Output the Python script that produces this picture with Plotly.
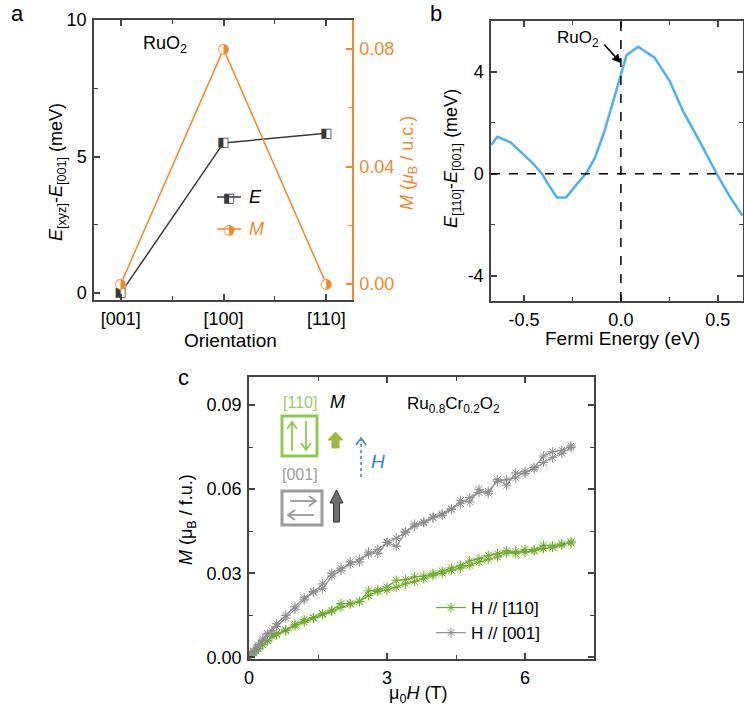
import plotly.graph_objects as go

W, H = 744, 713
def px(x): return x / W
def py(y): return 1 - y / H

FONT = "Liberation Sans, Arial, sans-serif"
GLYPH = "DejaVu Sans"
ORANGE = "#F28A2A"
DARK = "#3a3a3a"
BLUE = "#4DB3F0"
GREEN = "#6AAD24"
GRAY = "#8E8E8E"
AX = "#444444"

# ---------------- data ----------------
# panel a
orient_labels = ["[001]", "[100]", "[110]"]
orient_pos = [0, 1, 2]
E_vals = [0.0, 5.5, 5.85]
M_vals = [0.0, 0.08, 0.0]

# panel b
fermi_E = [-0.668, -0.637, -0.569, -0.51, -0.458, -0.407, -0.381, -0.330, -0.282, -0.227,
           -0.176, -0.133, -0.087, -0.039, 0.0, 0.029, 0.089, 0.174, 0.251, 0.320,
           0.405, 0.5, 0.559, 0.627]
dE_110_001 = [1.14, 1.45, 1.23, 0.80, 0.44, 0.0, -0.34, -0.93, -0.93, -0.41,
              0.05, 0.64, 1.62, 2.86, 3.84, 4.65, 4.99, 4.56, 3.65, 2.47,
              1.29, -0.08, -0.86, -1.65]

# panel c
H_up = [0, 0.05, 0.1, 0.15, 0.2, 0.3, 0.4, 0.5, 0.6, 0.8, 1.0, 1.2, 1.4, 1.6, 1.8, 2.0,
        2.2, 2.4, 2.6, 2.8, 3.0, 3.2, 3.4, 3.6, 3.8, 4.0, 4.2, 4.4, 4.6, 4.8, 5.0, 5.2,
        5.4, 5.6, 5.8, 6.0, 6.2, 6.4, 6.6, 6.8, 7.0]
H_down = [7.0, 6.8, 6.6, 6.4, 6.2, 6.0, 5.8, 5.6, 5.4, 5.2, 5.0, 4.8, 4.6, 4.4, 4.2, 4.0,
          3.8, 3.6, 3.4, 3.2, 3.0, 2.8, 2.6, 2.4, 2.2, 2.0, 1.8, 1.6, 1.4, 1.2, 1.0, 0.8,
          0.6, 0.4, 0.3, 0.2, 0.1, 0.0]
M001_up = [0, 0.001, 0.002, 0.003, 0.004, 0.006, 0.008, 0.0095, 0.011, 0.014, 0.0172,
           0.0205, 0.0235, 0.0245, 0.029, 0.031, 0.034, 0.034, 0.0375, 0.037, 0.041,
           0.0396, 0.0445, 0.0475, 0.0483, 0.050, 0.0507, 0.0527, 0.056, 0.0554, 0.0599,
           0.0585, 0.0634, 0.0614, 0.0658, 0.0656, 0.0677, 0.0718, 0.0733, 0.0739, 0.0754]
M001_down = [0.0748, 0.0728, 0.0712, 0.0695, 0.0672, 0.0663, 0.0640, 0.0633, 0.0628,
             0.0592, 0.0588, 0.0570, 0.0548, 0.0530, 0.0512, 0.0498, 0.0480, 0.0468,
             0.0448, 0.0425, 0.0410, 0.0385, 0.0368, 0.0350, 0.0332, 0.0318, 0.0300,
             0.0262, 0.0232, 0.0212, 0.0180, 0.0150, 0.0120, 0.0085, 0.0065, 0.0045,
             0.0022, 0.0005]
M110_up = [0, 0.0008, 0.0015, 0.0022, 0.003, 0.0045, 0.0058, 0.0075, 0.0085, 0.0095,
           0.0118, 0.0134, 0.0142, 0.0156, 0.0168, 0.0192, 0.0192, 0.0198, 0.0237, 0.024,
           0.0251, 0.0275, 0.0277, 0.0287, 0.029, 0.0299, 0.0308, 0.0319, 0.0328, 0.0344,
           0.0352, 0.0364, 0.037, 0.038, 0.037, 0.0385, 0.0383, 0.040, 0.0397, 0.0405,
           0.0408]
M110_down = [0.0412, 0.0400, 0.0392, 0.0388, 0.0380, 0.0375, 0.0378, 0.0372, 0.0358,
             0.0350, 0.0340, 0.0328, 0.0318, 0.0310, 0.0300, 0.0292, 0.0280, 0.0270,
             0.0262, 0.0250, 0.0240, 0.0235, 0.0220, 0.0200, 0.0190, 0.0178, 0.0165,
             0.0152, 0.0140, 0.0125, 0.0112, 0.0098, 0.0080, 0.0060, 0.0045, 0.0032,
             0.0018, 0.0004]

# tick labels
a_yticks = [0, 5, 10]
a_y2ticks = [0.0, 0.04, 0.08]
a_y2text = ["0.00", "0.04", "0.08"]
b_xticks = [-0.5, 0.0, 0.5]
b_xtext = ["-0.5", "0.0", "0.5"]
b_yticks = [-4, 0, 4]
b_ytext = ["-4", "0", "4"]
c_xticks = [0, 3, 6]
c_yticks = [0.0, 0.03, 0.06, 0.09]
c_ytext = ["0.00", "0.03", "0.06", "0.09"]

fig = go.Figure()

# ---------------- panel a ----------------
fig.add_trace(go.Scatter(x=orient_pos, y=E_vals, mode="lines+markers", xaxis="x", yaxis="y",
                         line=dict(color=DARK, width=1.5),
                         marker=dict(symbol="square", size=9, color="white", line=dict(width=0)),
                         showlegend=False, hoverinfo="skip"))
fig.add_trace(go.Scatter(x=orient_pos, y=E_vals, mode="text", xaxis="x", yaxis="y",
                         text=["\u25E7"] * len(E_vals), textposition="middle center",
                         textfont=dict(family=GLYPH, size=13, color=DARK),
                         showlegend=False, hoverinfo="skip"))
fig.add_trace(go.Scatter(x=orient_pos, y=M_vals, mode="lines+markers", xaxis="x", yaxis="y2",
                         line=dict(color=ORANGE, width=1.5),
                         marker=dict(symbol="circle", size=11, color="white", line=dict(width=0)),
                         showlegend=False, hoverinfo="skip"))
fig.add_trace(go.Scatter(x=orient_pos, y=M_vals, mode="text", xaxis="x", yaxis="y2",
                         text=["\u25D1"] * len(M_vals), textposition="middle center",
                         textfont=dict(family=GLYPH, size=14, color=ORANGE),
                         showlegend=False, hoverinfo="skip"))

# ---------------- panel b ----------------
fig.add_trace(go.Scatter(x=fermi_E, y=dE_110_001, mode="lines", xaxis="x2", yaxis="y3",
                         line=dict(color=BLUE, width=2.5), showlegend=False, hoverinfo="skip"))

# ---------------- panel c ----------------
def ast(color):
    return dict(symbol="asterisk-open", size=8, color=color, line=dict(color=color, width=1))

fig.add_trace(go.Scatter(x=H_up, y=M110_up, mode="lines+markers", xaxis="x3", yaxis="y4",
                         name="H // [110]", legendgroup="g110",
                         line=dict(color=GREEN, width=1.2), marker=ast(GREEN)))
fig.add_trace(go.Scatter(x=H_down, y=M110_down, mode="lines+markers", xaxis="x3", yaxis="y4",
                         name="H // [110]", legendgroup="g110", showlegend=False,
                         line=dict(color=GREEN, width=1.2), marker=ast(GREEN)))
fig.add_trace(go.Scatter(x=H_up, y=M001_up, mode="lines+markers", xaxis="x3", yaxis="y4",
                         name="H // [001]", legendgroup="g001",
                         line=dict(color=GRAY, width=1.2), marker=ast(GRAY)))
fig.add_trace(go.Scatter(x=H_down, y=M001_down, mode="lines+markers", xaxis="x3", yaxis="y4",
                         name="H // [001]", legendgroup="g001", showlegend=False,
                         line=dict(color=GRAY, width=1.2), marker=ast(GRAY)))

tickfont = dict(family=FONT, size=18, color="black")

def axis_common(**kw):
    d = dict(showgrid=False, zeroline=False, showline=True, linecolor=AX, linewidth=1.5,
             ticks="inside", ticklen=6, tickwidth=1.5, tickcolor=AX, tickfont=tickfont,
             mirror="ticks", ticklabelstandoff=2, automargin=False)
    d.update(kw)
    return d

fig.update_layout(
    width=W, height=H, autosize=False,
    margin=dict(l=0, r=0, t=0, b=0, autoexpand=False),
    paper_bgcolor="white", plot_bgcolor="white",
    font=dict(family=FONT, color="black"),
    xaxis=axis_common(domain=[px(94), px(352)], anchor="y", range=[-0.26, 2.25],
                      tickmode="array", tickvals=orient_pos, ticktext=orient_labels,
                      minor=dict(ticks="inside", ticklen=4, tickwidth=1.2, tickcolor=AX, dtick=0.5, tick0=0)),
    yaxis=axis_common(domain=[py(300), py(20)], anchor="x", range=[-0.25, 10], mirror=False,
                      tickmode="array", tickvals=a_yticks,
                      minor=dict(ticks="inside", ticklen=4, tickwidth=1.2, tickcolor=AX, dtick=2.5, tick0=0)),
    yaxis2=axis_common(overlaying="y", side="right", anchor="x", range=[-0.0054, 0.0899],
                       mirror=False, linecolor=ORANGE, tickcolor=ORANGE,
                       tickfont=dict(family=FONT, size=18, color=ORANGE),
                       tickmode="array", tickvals=a_y2ticks, ticktext=a_y2text,
                       minor=dict(ticks="inside", ticklen=4, tickwidth=1.2, tickcolor=ORANGE, dtick=0.02, tick0=0)),
    xaxis2=axis_common(domain=[px(491), px(743)], anchor="y3", range=[-0.67, 0.63],
                       tickmode="array", tickvals=b_xticks, ticktext=b_xtext,
                       minor=dict(ticks="inside", ticklen=4, tickwidth=1.2, tickcolor=AX, dtick=0.25, tick0=0)),
    yaxis3=axis_common(domain=[py(301), py(21)], anchor="x2", range=[-5, 6],
                       tickmode="array", tickvals=b_yticks, ticktext=b_ytext,
                       minor=dict(ticks="inside", ticklen=4, tickwidth=1.2, tickcolor=AX, dtick=2, tick0=0)),
    xaxis3=axis_common(domain=[px(249), px(594)], anchor="y4", range=[0, 7.5],
                       tickmode="array", tickvals=c_xticks,
                       minor=dict(ticks="inside", ticklen=4, tickwidth=1.2, tickcolor=AX, dtick=1.5, tick0=0)),
    yaxis4=axis_common(domain=[py(659), py(377)], anchor="x3", range=[-0.0006, 0.1],
                       tickmode="array", tickvals=c_yticks, ticktext=c_ytext,
                       minor=dict(ticks="inside", ticklen=4, tickwidth=1.2, tickcolor=AX, dtick=0.015, tick0=0)),
    legend=dict(x=px(431), y=py(590), xanchor="left", yanchor="top",
                bgcolor="rgba(0,0,0,0)", font=dict(family=FONT, size=17, color="black"),
                tracegroupgap=0, itemwidth=30),
)

ann = []
def label(x, y, text, size=18, color="black", angle=0, xanchor="center"):
    ann.append(dict(x=px(x), y=py(y), xref="paper", yref="paper", text=text, showarrow=False,
                    font=dict(family=FONT, size=size, color=color), textangle=angle,
                    xanchor=xanchor, yanchor="middle"))

# panel letters
label(17, 14, "a", size=22)
label(436, 13, "b", size=22)
label(183, 377, "c", size=22)

# panel a texts
label(165, 44, "RuO<sub>2</sub>", size=18)
label(230, 340, "Orientation", size=19)
label(57, 172, "<i>E</i><sub>[xyz]</sub>-<i>E</i><sub>[001]</sub> (meV)", size=18, angle=-90)
label(409, 163, "<i>M</i> (<i>\u03bc</i><sub>B</sub> / u.c.)", size=18, color=ORANGE, angle=-90)
# panel a legend
label(247, 197, "<i>E</i>", size=18, xanchor="left")
label(247, 229, "<i>M</i>", size=18, color=ORANGE, xanchor="left")
ann.append(dict(x=px(229), y=py(197), xref="paper", yref="paper", text="\u25E7", showarrow=False,
                font=dict(family=GLYPH, size=13, color=DARK), xanchor="center", yanchor="middle"))
ann.append(dict(x=px(229), y=py(229), xref="paper", yref="paper", text="\u25D1", showarrow=False,
                font=dict(family=GLYPH, size=14, color=ORANGE), xanchor="center", yanchor="middle"))

# panel b texts
label(622, 338, "Fermi Energy (eV)", size=19)
label(453, 159, "<i>E</i><sub>[110]</sub>-<i>E</i><sub>[001]</sub> (meV)", size=18, angle=-90)
label(578, 39, "RuO<sub>2</sub>", size=17)
ann.append(dict(x=0, y=4.35, xref="x2", yref="y3", text="", showarrow=True, ax=-18, ay=-20,
                arrowhead=2, arrowsize=1.1, arrowwidth=1.6, arrowcolor="black"))

# panel c texts
label(418, 694, "\u03bc<sub>0</sub><i>H</i> (T)", size=18)
label(187, 520, "<i>M</i> (\u03bc<sub>B</sub> / f.u.)", size=18, angle=-90)
label(405, 405, "Ru<sub>0.8</sub>Cr<sub>0.2</sub>O<sub>2</sub>", size=17, xanchor="left")
label(300, 402, "[110]", size=16, color="#9ACD5E")
label(337, 402, "<i>M</i>", size=18)
label(300, 475, "[001]", size=16, color="#A0A0A0")
label(378, 461, "<i>H</i>", size=19, color="#2A86D6")

fig.update_layout(annotations=ann)

def path(pts, close=False):
    s = "M " + " L ".join(f"{px(x):.5f},{py(y):.5f}" for x, y in pts)
    return s + (" Z" if close else "")

shapes = []
shapes.append(dict(type="line", xref="paper", yref="paper", x0=px(217), x1=px(241), y0=py(197), y1=py(197),
                   line=dict(color=DARK, width=1.5), layer="below"))
shapes.append(dict(type="line", xref="paper", yref="paper", x0=px(217), x1=px(241), y0=py(229), y1=py(229),
                   line=dict(color=ORANGE, width=1.5), layer="below"))
shapes.append(dict(type="line", xref="x2", yref="y3", x0=0, x1=0, y0=-5, y1=6,
                   line=dict(color="black", width=1.5, dash="dash")))
shapes.append(dict(type="line", xref="x2", yref="y3", x0=-0.67, x1=0.63, y0=0, y1=0,
                   line=dict(color="black", width=1.5, dash="dash")))
LG = "#8CCB4E"
shapes.append(dict(type="rect", xref="paper", yref="paper", x0=px(282), x1=px(317), y0=py(456), y1=py(416),
                   line=dict(color=LG, width=3)))
shapes.append(dict(type="path", xref="paper", yref="paper", path=path([(292, 451), (292, 423)]), line=dict(color=LG, width=1.8)))
shapes.append(dict(type="path", xref="paper", yref="paper", path=path([(287, 429), (292, 422), (297, 429)]), line=dict(color=LG, width=1.8)))
shapes.append(dict(type="path", xref="paper", yref="paper", path=path([(306, 421), (306, 449)]), line=dict(color=LG, width=1.8)))
shapes.append(dict(type="path", xref="paper", yref="paper", path=path([(301, 443), (306, 450), (311, 443)]), line=dict(color=LG, width=1.8)))
shapes.append(dict(type="path", xref="paper", yref="paper",
                   path=path([(332, 448), (332, 440), (328, 440), (335.5, 432), (343, 440), (339, 440), (339, 448)], close=True),
                   fillcolor="#9DBA3C", line=dict(color="#9DBA3C", width=1)))
shapes.append(dict(type="path", xref="paper", yref="paper", path=path([(361, 477), (361, 440)]),
                   line=dict(color="#2A86D6", width=1.5, dash="dot")))
shapes.append(dict(type="path", xref="paper", yref="paper", path=path([(356, 445), (361, 438), (366, 445)]),
                   line=dict(color="#2A86D6", width=1.5)))
GB = "#9A9A9A"
shapes.append(dict(type="rect", xref="paper", yref="paper", x0=px(282), x1=px(322), y0=py(525), y1=py(491),
                   line=dict(color=GB, width=3)))
shapes.append(dict(type="path", xref="paper", yref="paper", path=path([(290, 501), (315, 501)]), line=dict(color=GB, width=1.8)))
shapes.append(dict(type="path", xref="paper", yref="paper", path=path([(309, 496), (316, 501), (309, 506)]), line=dict(color=GB, width=1.8)))
shapes.append(dict(type="path", xref="paper", yref="paper", path=path([(314, 515), (289, 515)]), line=dict(color=GB, width=1.8)))
shapes.append(dict(type="path", xref="paper", yref="paper", path=path([(295, 510), (288, 515), (295, 520)]), line=dict(color=GB, width=1.8)))
shapes.append(dict(type="path", xref="paper", yref="paper",
                   path=path([(333.5, 522), (333.5, 503), (330, 503), (336.5, 490), (343, 503), (339.5, 503), (339.5, 522)], close=True),
                   fillcolor="#6E6E6E", line=dict(color="#333333", width=1)))
fig.update_layout(shapes=shapes)

fig.write_html("out.html", config={"displayModeBar": False},
               post_script="document.body.style.margin='0';document.body.style.overflow='hidden';")
